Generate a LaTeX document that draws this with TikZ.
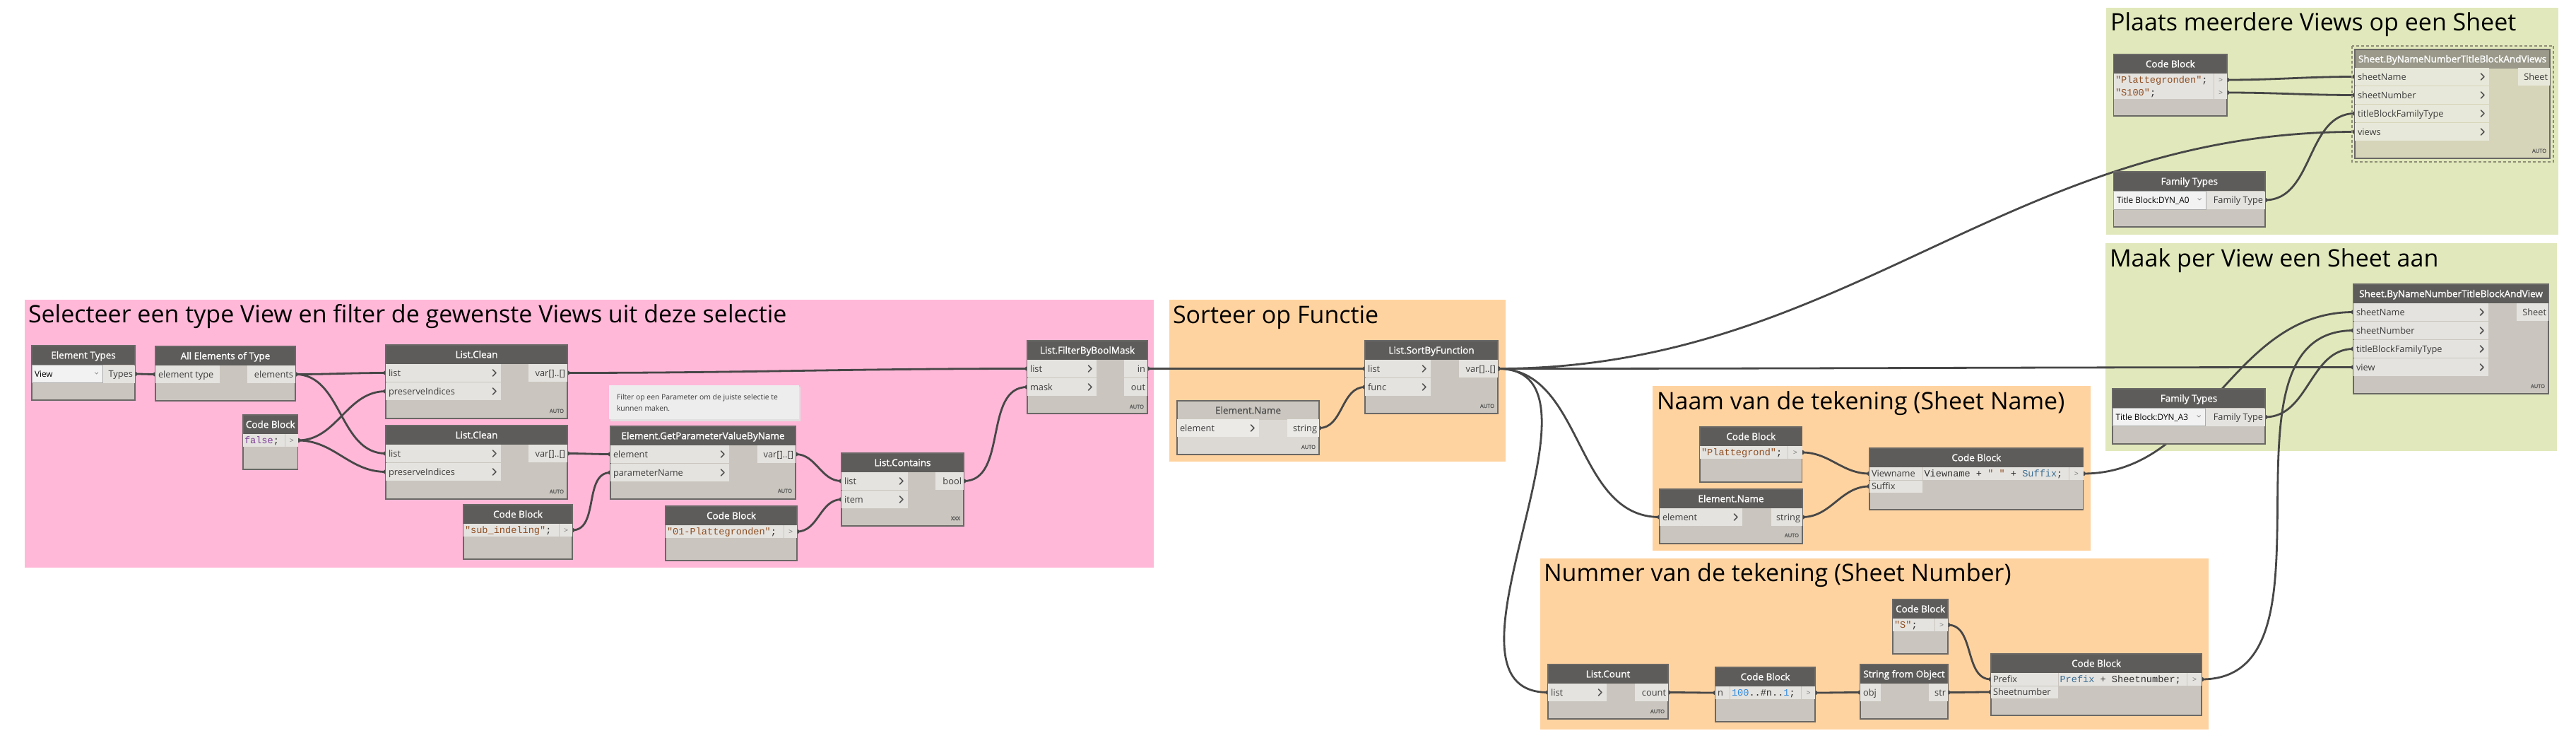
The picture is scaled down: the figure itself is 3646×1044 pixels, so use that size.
\documentclass[tikz,border=0pt]{standalone}
\usepackage{fontspec}
\setmainfont{Open Sans}
\newfontfamily\dynhdrff[FakeBold=1.3]{Open Sans}
\newfontfamily\dynmonoff{Liberation Mono}
\usetikzlibrary{calc}
\definecolor{pinkg}{HTML}{FFB8D8}
\definecolor{orangeg}{HTML}{FFD3A0}
\definecolor{greeng}{HTML}{E1E8BB}
\definecolor{hdr}{HTML}{5E5C5A}
\definecolor{bodyc}{HTML}{CAC6BF}
\definecolor{rowc}{HTML}{E5E3DF}
\definecolor{bordc}{HTML}{6A6866}
\definecolor{wirec}{HTML}{474747}
\definecolor{txtc}{HTML}{3C3C3C}
\definecolor{frzhdr}{HTML}{CBC7C0}
\definecolor{frzbody}{HTML}{DCD9D4}
\definecolor{frzrow}{HTML}{EBEAE7}
\definecolor{frztxt}{HTML}{505050}
\definecolor{selhdr}{HTML}{9A998A}
\definecolor{selbody}{HTML}{D6D5B9}
\definecolor{selrow}{HTML}{E8E8DA}
\definecolor{seldash}{HTML}{8E8D78}
\definecolor{strc}{HTML}{8E4E22}
\definecolor{kwc}{HTML}{7D3C98}
\definecolor{numc}{HTML}{2E8BE0}
\definecolor{varc}{HTML}{3A6E93}
\definecolor{codec}{HTML}{303030}
\definecolor{notebg}{HTML}{EDEDED}
\definecolor{ddbg}{HTML}{F2F2F2}
\definecolor{ddborder}{HTML}{ABABAB}
\definecolor{chevc}{HTML}{555555}
\definecolor{autoc}{HTML}{555555}
\newcounter{lblc}
\newcommand\dynhdr{\dynhdrff\fontsize{13.5}{16}\selectfont}
\newcommand\dynport{\fontsize{12.8}{15}\selectfont}
\newcommand\dyncode{\dynmonoff\fontsize{13.6}{16}\selectfont}
\newcommand\dyntitle{\fontsize{34}{40}\selectfont}
\newcommand\dynauto{\dynhdrff\fontsize{7.5}{9}\selectfont}
\newcommand\dynnote{\fontsize{10.4}{14}\selectfont}
\newcommand\dyndd{\fontsize{11.8}{14}\selectfont}
\pgfdeclarelayer{grp}
\pgfdeclarelayer{wirel}
\pgfsetlayers{grp,wirel,main}
\tikzset{
  lblst/.style={inner sep=0pt, outer sep=0pt},
  wire/.style={draw=wirec, line width=2.8pt},
  chevst/.style={draw=chevc, line width=1.7pt, line cap=round, line join=round},
  nodeframe/.style={draw=bordc, line width=1.2pt, inner sep=0pt, outer sep=0pt, anchor=north west},
}
\newcommand\lbl[4]{\stepcounter{lblc}\node[lblst, anchor=#1] (t\arabic{lblc}) at ({#2},{#3}) {#4};}
\newcommand\nodebox[9]{%
  \path[fill=#8] (#2,#3) rectangle ++(#4,#5);
  \path[fill=#7] (#2,#3) rectangle ++(#4,27);
  \lbl{base}{#2+#4/2}{#3+18.3}{\dynhdr\color{#9}#6}
  \node[nodeframe, minimum width=#4, minimum height=#5] (#1) at (#2,#3) {};
}
\newcommand\prow[5]{\path[fill=#5] ({#1},{#2}) rectangle ({#3},{#4});}
\newcommand\chev[2]{\draw[chevst] ({#1-2.5},{#2-4.5}) -- ({#1+2},{#2}) -- ({#1-2.5},{#2+4.5});}
\newcommand\inrow[6]{%
  \prow{#1}{#2}{#3}{#2+25}{#6}
  \lbl{base west}{#1+4}{#2+17}{\dynport\color{txtc}#4}
  \ifnum#5=1\relax\chev{#3-9}{#2+12.5}\fi}
\newcommand\outrow[5]{%
  \prow{#1}{#2}{#3}{#2+25}{#5}
  \lbl{base east}{#3-3}{#2+17}{\dynport\color{txtc}#4}}
\newcommand\gtcell[2]{\lbl{base}{#1}{#2}{\dynmonoff\fontsize{10}{12}\selectfont\color{gray}>}}
\newcommand\coderow[5]{%
  \prow{#1}{#2}{#3}{#2+18}{rowc}
  \prow{#3+1}{#2}{#4}{#2+18}{rowc}
  \lbl{base west}{#1+2}{#2+13.5}{\dyncode\color{codec}#5}
  \gtcell{(#3+1+#4)/2}{#2+12.5}}
\newcommand\autol[3]{\lbl{base east}{#1}{#2}{\dynauto\color{autoc}#3}}
\newcommand\wire[2]{\draw[wire] let \p1=(#1), \p2=(#2), \n1={0.3915*100*veclen((\x2-\x1)/100,(\y2-\y1)/100)} in (#1) .. controls +(\n1,0) and +(-\n1,0) .. (#2);
  \fill[wirec] (#1) circle[radius=3.4pt]; \fill[wirec] (#2) circle[radius=3.4pt];}
\begin{document}
\begin{tikzpicture}[x=1pt,y=-1pt]
\useasboundingbox (0,0) rectangle (3646,1044);
% ---------------- groups
\begin{pgfonlayer}{grp}
\fill[white] (0,0) rectangle (3646,1044);
\fill[pinkg] (35,424) rectangle (1633,803);
\fill[orangeg] (1655,424) rectangle (2131,653);
\fill[orangeg] (2339,546) rectangle (2959,779);
\fill[orangeg] (2180,790) rectangle (3126,1032);
\fill[greeng] (2981,11) rectangle (3621,332);
\fill[greeng] (2980,344) rectangle (3619,638);
\end{pgfonlayer}
\node[lblst, anchor=base west] (G1) at (40,456) {\dyntitle Selecteer een type View en filter de gewenste Views uit deze selectie};
\node[lblst, anchor=base west] (G2) at (1660,457) {\dyntitle Sorteer op Functie};
\node[lblst, anchor=base west] (G3) at (2345,579) {\dyntitle Naam van de tekening (Sheet Name)};
\node[lblst, anchor=base west] (G4) at (2185,822) {\dyntitle Nummer van de tekening (Sheet Number)};
\node[lblst, anchor=base west] (G5) at (2987,43) {\dyntitle Plaats meerdere Views op een Sheet};
\node[lblst, anchor=base west] (G6) at (2986,377) {\dyntitle Maak per View een Sheet aan};
% ---------------- pink group nodes
\nodebox{ET}{45}{489}{146}{77}{Element Types}{hdr}{bodyc}{white}
\path[fill=ddbg, draw=ddborder, line width=0.8pt] (45,516.5) rectangle (145,541.5);
\lbl{base west}{49}{533}{\dyndd\color{black}View}
\draw[gray, line width=0.7pt] (134,526.5) -- (136.5,529) -- (139,526.5);
\outrow{145.5}{516.5}{191}{Types}{rowc}
\coordinate (ET-o) at (191,529);

\nodebox{AE}{220}{490}{198}{77}{All Elements of Type}{hdr}{bodyc}{white}
\inrow{220}{517}{311}{element type}{0}{rowc}
\outrow{350}{517}{418}{elements}{rowc}
\coordinate (AE-i) at (220,529.5);
\coordinate (AE-o) at (418,529.5);

\nodebox{LCa}{546}{488}{257}{104}{List.Clean}{hdr}{bodyc}{white}
\inrow{546}{515}{709}{list}{1}{rowc}
\inrow{546}{541}{709}{preserveIndices}{1}{rowc}
\outrow{748}{515}{803}{var[]..[]}{rowc}
\autol{798}{584}{AUTO}
\coordinate (LCa-i1) at (546,527.5);
\coordinate (LCa-i2) at (546,553.5);
\coordinate (LCa-o) at (803,527.5);

\nodebox{CBF}{344}{587}{77.5}{77}{Code Block}{hdr}{bodyc}{white}
\coderow{344}{614}{403}{421.5}{{\color{kwc}false};}
\coordinate (CBF-o) at (421.5,623);

\nodebox{LCb}{546}{602}{257}{104}{List.Clean}{hdr}{bodyc}{white}
\inrow{546}{629}{709}{list}{1}{rowc}
\inrow{546}{655}{709}{preserveIndices}{1}{rowc}
\outrow{748}{629}{803}{var[]..[]}{rowc}
\autol{798}{698}{AUTO}
\coordinate (LCb-i1) at (546,641.5);
\coordinate (LCb-i2) at (546,667.5);
\coordinate (LCb-o) at (803,641.5);

\nodebox{CBSub}{656}{714}{154}{77}{Code Block}{hdr}{bodyc}{white}
\coderow{656}{741}{791}{810}{{\color{strc}"sub\_indeling"};}
\coordinate (CBSub-o) at (810,750);

\fill[black!12] (864,547) rectangle (1133,596);
\node[fill=notebg, minimum width=269, minimum height=48, inner sep=0pt, anchor=north west] (NOTE) at (862,545) {};
\lbl{base west}{873}{565}{\dynnote\color{txtc}Filter op een Parameter om de juiste selectie te}
\lbl{base west}{873}{581}{\dynnote\color{txtc}kunnen maken.}

\nodebox{GP}{864}{603}{262}{103}{Element.GetParameterValueByName}{hdr}{bodyc}{white}
\inrow{864}{630}{1032}{element}{1}{rowc}
\inrow{864}{656}{1032}{parameterName}{1}{rowc}
\outrow{1072}{630}{1126}{var[]..[]}{rowc}
\autol{1121}{697}{AUTO}
\coordinate (GP-i1) at (864,642.5);
\coordinate (GP-i2) at (864,668.5);
\coordinate (GP-o) at (1126,642.5);

\nodebox{CBo}{942}{716}{186}{77}{Code Block}{hdr}{bodyc}{white}
\coderow{942}{743}{1109}{1128}{{\color{strc}"01-Plattegronden"};}
\coordinate (CBo-o) at (1128,752);

\nodebox{LCn}{1191}{641}{173}{103}{List.Contains}{hdr}{bodyc}{white}
\inrow{1191}{668}{1285}{list}{1}{rowc}
\inrow{1191}{694}{1285}{item}{1}{rowc}
\outrow{1324}{668}{1364}{bool}{rowc}
\autol{1359}{736}{XXX}
\coordinate (LCn-i1) at (1191,680.5);
\coordinate (LCn-i2) at (1191,706.5);
\coordinate (LCn-o) at (1364,680.5);

\nodebox{FBM}{1454}{482}{170}{103}{List.FilterByBoolMask}{hdr}{bodyc}{white}
\inrow{1454}{509}{1552}{list}{1}{rowc}
\inrow{1454}{535}{1552}{mask}{1}{rowc}
\outrow{1591}{509}{1624}{in}{rowc}
\outrow{1591}{535}{1624}{out}{rowc}
\autol{1619}{578}{AUTO}
\coordinate (FBM-i1) at (1454,521.5);
\coordinate (FBM-i2) at (1454,547.5);
\coordinate (FBM-o) at (1624,521.5);

% ---------------- Sorteer op Functie
\nodebox{ENa}{1666}{567}{201}{76}{Element.Name}{frzhdr}{frzbody}{frztxt}
\inrow{1666}{593}{1782}{element}{1}{frzrow}
\outrow{1822}{593}{1867}{string}{frzrow}
\autol{1862}{635}{AUTO}
\coordinate (ENa-o) at (1867,605.5);

\nodebox{SBF}{1932}{482}{188}{103}{List.SortByFunction}{hdr}{bodyc}{white}
\inrow{1932}{509}{2025}{list}{1}{rowc}
\inrow{1932}{535}{2025}{func}{1}{rowc}
\outrow{2065}{509}{2120}{var[]..[]}{rowc}
\autol{2115}{577}{AUTO}
\coordinate (SBF-i1) at (1932,521.5);
\coordinate (SBF-i2) at (1932,547.5);
\coordinate (SBF-o) at (2120,521.5);

% ---------------- Naam van de tekening
\nodebox{CBP}{2406}{604}{144.5}{78}{Code Block}{hdr}{bodyc}{white}
\coderow{2406}{631}{2530}{2550.5}{{\color{strc}"Plattegrond"};}
\coordinate (CBP-o) at (2550.5,640);

\nodebox{ENb}{2349}{692}{202}{77}{Element.Name}{hdr}{bodyc}{white}
\inrow{2349}{719}{2466}{element}{1}{rowc}
\outrow{2506.5}{719}{2551}{string}{rowc}
\autol{2546}{760}{AUTO}
\coordinate (ENb-i) at (2349,731.5);
\coordinate (ENb-o) at (2551,731.5);

\nodebox{CBV}{2646}{634}{302.5}{87}{Code Block}{hdr}{bodyc}{white}
\prow{2646}{661}{2721}{679}{rowc}
\prow{2646}{679.5}{2721}{697}{rowc}
\lbl{base west}{2649}{674.5}{\dynport\color{txtc}Viewname}
\lbl{base west}{2649}{692.5}{\dynport\color{txtc}Suffix}
\coderow{2721.5}{661}{2928}{2948.5}{Viewname + {\color{strc}"\ "} + {\color{varc}Suffix};}
\coordinate (CBV-i1) at (2646,670);
\coordinate (CBV-i2) at (2646,688);
\coordinate (CBV-o) at (2948.5,670);

% ---------------- Nummer van de tekening
\nodebox{LCt}{2191}{940}{170}{77}{List.Count}{hdr}{bodyc}{white}
\inrow{2191}{967}{2274}{list}{1}{rowc}
\outrow{2314}{967}{2361}{count}{rowc}
\autol{2356}{1009}{AUTO}
\coordinate (LCt-i) at (2191,979.5);
\coordinate (LCt-o) at (2361,979.5);

\nodebox{CBh}{2428}{944}{141}{77}{Code Block}{hdr}{bodyc}{white}
\prow{2428}{971}{2448}{989}{rowc}
\lbl{base west}{2431}{984.5}{\dynport\color{txtc}n}
\coderow{2449}{971}{2549}{2569}{{\color{numc}100}..\#n..{\color{numc}1};}
\coordinate (CBh-i) at (2428,980);
\coordinate (CBh-o) at (2569,980);

\nodebox{SFO}{2633}{940}{124}{77}{String from Object}{hdr}{bodyc}{white}
\inrow{2633}{967}{2662}{obj}{0}{rowc}
\outrow{2730}{967}{2757}{str}{rowc}
\coordinate (SFO-i) at (2633,979.5);
\coordinate (SFO-o) at (2757,979.5);

\nodebox{CBs}{2679}{848}{78}{77}{Code Block}{hdr}{bodyc}{white}
\coderow{2679}{875}{2738}{2757}{{\color{strc}"S"};}
\coordinate (CBs-o) at (2757,884);

\nodebox{CBq}{2818}{925}{298}{87}{Code Block}{hdr}{bodyc}{white}
\prow{2818}{952}{2913}{970}{rowc}
\prow{2818}{970.5}{2913}{988}{rowc}
\lbl{base west}{2821}{965.5}{\dynport\color{txtc}Prefix}
\lbl{base west}{2821}{983.5}{\dynport\color{txtc}Sheetnumber}
\coderow{2913.5}{952}{3095}{3116}{{\color{varc}Prefix} + Sheetnumber;}
\coordinate (CBq-i1) at (2818,961);
\coordinate (CBq-i2) at (2818,979);
\coordinate (CBq-o) at (3116,961);

% ---------------- Plaats meerdere Views op een Sheet
\nodebox{CBm}{2991.5}{77}{160.5}{87}{Code Block}{hdr}{bodyc}{white}
\prow{2991.5}{104}{3133}{139.5}{rowc}
\prow{3134}{104}{3152}{121.5}{rowc}
\prow{3134}{122}{3152}{139.5}{rowc}
\lbl{base west}{2994}{117.5}{\dyncode\color{codec}{\color{strc}"Plattegronden"};}
\lbl{base west}{2994}{135}{\dyncode\color{codec}{\color{strc}"S100"};}
\gtcell{3143}{116.5}
\gtcell{3143}{134}
\coordinate (CBm-o1) at (3152,113);
\coordinate (CBm-o2) at (3152,131);

\nodebox{SVs}{3333}{70}{276}{154}{Sheet.ByNameNumberTitleBlockAndViews}{selhdr}{selbody}{white}
\inrow{3333}{96}{3523}{sheetName}{1}{selrow}
\inrow{3333}{122}{3523}{sheetNumber}{1}{selrow}
\inrow{3333}{148}{3523}{titleBlockFamilyType}{1}{selrow}
\inrow{3333}{174}{3523}{views}{1}{selrow}
\outrow{3564}{96}{3609}{Sheet}{selrow}
\autol{3604}{216}{AUTO}
\draw[seldash, line width=2pt, dash pattern=on 4pt off 3pt] (3328.5,64.5) rectangle (3614,228.5);
\coordinate (SVs-i1) at (3333,108.5);
\coordinate (SVs-i2) at (3333,134.5);
\coordinate (SVs-i3) at (3333,160.5);
\coordinate (SVs-i4) at (3333,186.5);

\nodebox{FTa}{2991.5}{243}{214.5}{78}{Family Types}{hdr}{bodyc}{white}
\path[fill=ddbg, draw=ddborder, line width=0.8pt] (2991.5,270) rectangle (3122,296);
\lbl{base west}{2996}{287.5}{\dyndd\color{black}Title Block:DYN\_A0}
\draw[gray, line width=0.7pt] (3110.5,280.5) -- (3113,283) -- (3115.5,280.5);
\outrow{3122.5}{270.5}{3206}{Family Type}{rowc}
\coordinate (FTa-o) at (3206,283);

% ---------------- Maak per View een Sheet aan
\nodebox{SV}{3331}{402}{276}{155}{Sheet.ByNameNumberTitleBlockAndView}{hdr}{bodyc}{white}
\inrow{3331}{429}{3522}{sheetName}{1}{rowc}
\inrow{3331}{455}{3522}{sheetNumber}{1}{rowc}
\inrow{3331}{481}{3522}{titleBlockFamilyType}{1}{rowc}
\inrow{3331}{507}{3522}{view}{1}{rowc}
\outrow{3562}{429}{3607}{Sheet}{rowc}
\autol{3602}{549}{AUTO}
\coordinate (SV-i1) at (3331,441.5);
\coordinate (SV-i2) at (3331,467.5);
\coordinate (SV-i3) at (3331,493.5);
\coordinate (SV-i4) at (3331,519.5);

\nodebox{FTb}{2990}{550}{216}{78}{Family Types}{hdr}{bodyc}{white}
\path[fill=ddbg, draw=ddborder, line width=0.8pt] (2990,577) rectangle (3121,602.5);
\lbl{base west}{2994.5}{594}{\dyndd\color{black}Title Block:DYN\_A3}
\draw[gray, line width=0.7pt] (3109.5,587.5) -- (3112,590) -- (3114.5,587.5);
\outrow{3121.5}{577.5}{3206}{Family Type}{rowc}
\coordinate (FTb-o) at (3206,590);

% ---------------- wires
\begin{pgfonlayer}{wirel}
\wire{ET-o}{AE-i}
\wire{AE-o}{LCa-i1}
\wire{AE-o}{LCb-i1}
\wire{CBF-o}{LCa-i2}
\wire{CBF-o}{LCb-i2}
\wire{LCa-o}{FBM-i1}
\wire{LCb-o}{GP-i1}
\wire{CBSub-o}{GP-i2}
\wire{GP-o}{LCn-i1}
\wire{CBo-o}{LCn-i2}
\wire{LCn-o}{FBM-i2}
\wire{FBM-o}{SBF-i1}
\wire{ENa-o}{SBF-i2}
\wire{SBF-o}{SVs-i4}
\wire{SBF-o}{SV-i4}
\wire{SBF-o}{ENb-i}
\wire{SBF-o}{LCt-i}
\wire{CBP-o}{CBV-i1}
\wire{ENb-o}{CBV-i2}
\wire{CBV-o}{SV-i1}
\wire{LCt-o}{CBh-i}
\wire{CBh-o}{SFO-i}
\wire{SFO-o}{CBq-i2}
\wire{CBs-o}{CBq-i1}
\wire{CBq-o}{SV-i2}
\wire{FTb-o}{SV-i3}
\wire{CBm-o1}{SVs-i1}
\wire{CBm-o2}{SVs-i2}
\wire{FTa-o}{SVs-i3}
\end{pgfonlayer}
\end{tikzpicture}
\end{document}
